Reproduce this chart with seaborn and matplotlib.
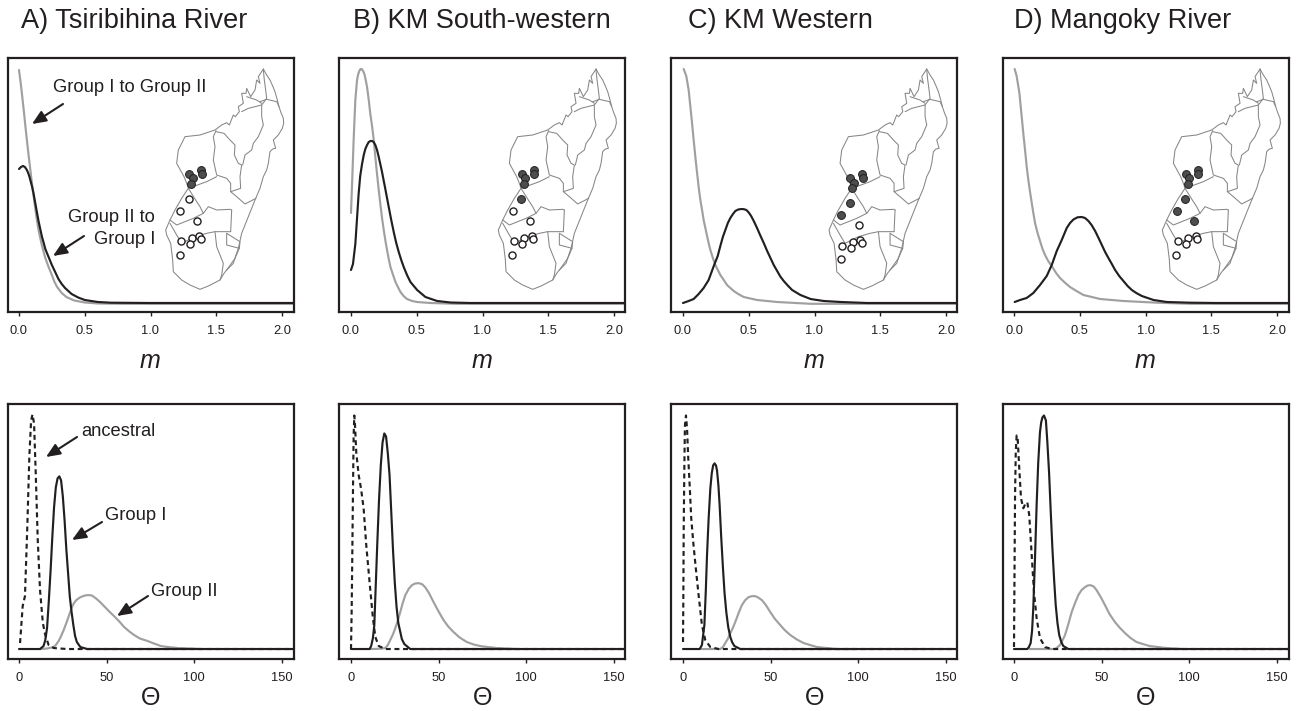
import matplotlib
matplotlib.use("Agg")
import matplotlib.pyplot as plt
import numpy as np
import pandas as pd
import seaborn as sns

sns.set_theme(style="white")
plt.rcParams['font.family'] = ['Liberation Sans', 'DejaVu Sans']

panel_titles = ["A) Tsiribihina River", "B) KM South-western", "C) KM Western", "D) Mangoky River"]
m_ticks = [0.0, 0.5, 1.0, 1.5, 2.0]
m_ticklabels = ["0.0", "0.5", "1.0", "1.5", "2.0"]
theta_ticks = [0, 50, 100, 150]
theta_ticklabels = ["0", "50", "100", "150"]

# ---- migration rate densities (height in arbitrary density units) ----
a_m_grey_x = [0, .01, .02, .03, .04, .05, .06, .07, .08, .09, .1, .11, .12, .135, .15, .175, .2, .225, .25, .27, .29, .325, .36, .42, .5, .6, .8, 2.2]
a_m_grey_y = [233, 223, 212, 200, 188, 175, 163, 151, 140, 129, 118, 108, 98, 84, 72, 57, 45, 36, 28, 21, 16, 10, 6, 2.5, .5, -.5, -.8, -.8]
a_m_black_x = [0, .015, .03, .045, .06, .07, .08, .09, .1, .11, .125, .14, .15, .165, .175, .19, .2, .225, .25, .275, .3, .325, .35, .4, .45, .5, .6, .7, 1, 2.2]
a_m_black_y = [134, 136, 137, 136, 133, 130, 126, 121, 116, 110, 99, 88, 81, 72, 66, 59, 54, 46, 38, 31, 24, 19, 15, 9, 5.5, 3, 1, .3, 0, 0]

b_m_grey_x = [0, .01, .02, .033, .046, .055, .065, .073, .081, .09, .102, .112, .122, .135, .147, .16, .173, .185, .198, .21, .223, .236, .249, .262, .274, .287, .3, .32, .338, .357, .376, .4, .426, .465, .503, .604, .8, 2.2]
b_m_grey_y = [90, 126, 163, 203, 223, 229, 232.5, 234, 234, 232.5, 229, 223, 216, 203, 189, 177, 163, 146, 129, 114, 99, 85, 73, 62, 53, 44, 36, 28, 21, 16, 11, 7, 4, 2, 1, 0, -.8, -.8]
b_m_black_x = [0, .015, .033, .058, .07, .084, .097, .109, .122, .135, .148, .16, .172, .185, .198, .211, .236, .261, .287, .306, .325, .344, .363, .382, .401, .426, .452, .503, .566, .655, .756, .909, 2.2]
b_m_black_y = [33, 39, 59, 109, 127, 139, 148, 154, 158, 161, 162, 162, 161, 158, 153, 146, 131, 114, 96, 83, 71, 60, 51, 43, 36, 28, 21, 13, 6, 2, .5, 0, 0]

c_m_grey_x = [.005, .025, .043, .061, .071, .081, .094, .107, .12, .132, .145, .157, .17, .183, .195, .208, .227, .246, .265, .284, .31, .335, .36, .386, .42, .462, .563, .716, .97, 2.2]
c_m_grey_y = [234, 227, 213, 190, 177, 163, 146, 130, 115, 103, 93, 83, 75, 67, 60, 53, 45, 38, 33, 28, 23, 18, 15, 12, 9, 6, 3, 1, -.8, -.8]
c_m_black_x = [0, .043, .081, .119, .157, .195, .234, .264, .284, .303, .322, .341, .36, .38, .398, .42, .444, .463, .482, .5, .518, .54, .563, .588, .614, .64, .665, .69, .716, .74, .766, .8, .83, .893, .97, 1.07, 1.2, 1.4, 2.2]
c_m_black_y = [0, 2, 4, 9, 15, 23, 37, 47, 57, 66, 73, 80, 85, 89, 92, 93.5, 94, 93.8, 93, 90.5, 87, 81.5, 75, 67.5, 60, 52, 45, 38, 32, 26.5, 22, 17, 13, 8, 4, 2, 1, 0, 0]

d_m_grey_x = [.005, .02, .041, .061, .072, .084, .096, .109, .122, .135, .147, .16, .179, .198, .217, .236, .26, .287, .32, .35, .39, .426, .475, .528, .655, .832, 1.086, 1.34, 2.2]
d_m_grey_y = [234, 227, 210, 183, 168, 153, 137, 123, 111, 100, 90, 80, 70, 62, 54, 48, 42, 37, 30, 25, 20, 16, 12, 8, 4, 2, .3, -.8, -.8]
d_m_black_x = [.005, .046, .096, .147, .198, .249, .287, .325, .363, .401, .426, .452, .483, .515, .54, .566, .59, .617, .643, .668, .693, .718, .744, .769, .8, .832, .864, .896, .93, .972, 1.061, 1.162, 1.34, 1.543, 2.2]
d_m_black_y = [1, 3, 5, 10, 18, 27, 38, 52, 63, 75, 80, 83.5, 85.7, 86, 85, 82, 78, 72, 65, 58, 51, 45, 39, 33, 27, 22, 17, 13, 10, 7, 3, 1, .3, 0, 0]

# ---- theta densities ----
a_t_anc_x = [.6, 2.1, 3.4, 4.8, 5.9, 6.9, 7.7, 8.6, 9.6, 10.7, 12, 13.6, 15, 16.9, 19.8, 27.4, 37, 160]
a_t_anc_y = [6, 43, 53, 126, 193, 229, 235, 226, 173, 109, 59, 26, 14, 4, 1, 0, 0, 0]
a_t_one_x = [0, 12, 14, 15, 16, 17, 18, 19, 20, 21, 22, 23, 24, 25, 26, 27, 28, 29, 30, 31, 32, 33, 35, 38.9, 160]
a_t_one_y = [0, 0, 3, 9, 21, 48, 78, 112, 142, 162, 171, 173, 169, 153, 129, 100, 76, 52, 37, 24, 13, 7, 2, 0, 0]
a_t_two_x = [12, 16, 19.7, 21, 22.6, 24, 25.5, 27, 28.4, 30, 31.3, 33, 35.1, 37, 38.5, 39.9, 41.5, 43.7, 46, 48.5, 51, 54.2, 57, 60, 63, 65.7, 69, 73.4, 77, 81, 85, 90.6, 104]
a_t_two_y = [0, .5, 2, 4, 8, 13, 19, 26, 33, 41, 46, 49.5, 52, 53.3, 53.9, 54, 53.7, 51, 47.5, 43, 38.5, 33, 28, 22, 17.5, 14, 10.5, 8, 5.5, 3, 2, 1, 0]

b_t_anc_x = [0, .4, .8, 1.1, 1.5, 1.9, 2.3, 3, 4.4, 5.7, 7.2, 8.7, 10.6, 12.5, 13.9, 15.8, 19.6, 30, 160]
b_t_anc_y = [0, 41, 104, 154, 214, 234, 224, 197, 174, 161, 141, 104, 67, 31, 12, 3, 0, 0, 0]
b_t_one_x = [0, 10.6, 11.5, 12.5, 13.3, 14, 15, 16, 17, 18, 19, 20, 21, 22, 23, 24, 25, 26, 27, 28, 29, 30.4, 33.8, 160]
b_t_one_y = [0, 0, 3, 11, 24, 58, 106, 150, 184, 207, 216, 213, 196, 174, 136, 98, 66, 42, 26, 18, 10, 5, 0, 0]
b_t_two_x = [11, 17, 19.6, 21, 22.4, 24, 25.3, 26.8, 28.1, 29.5, 31, 33, 34.8, 36.5, 38.6, 40.5, 42.3, 44.5, 47.1, 50, 52.8, 55.5, 58.5, 62, 66.1, 70, 73.7, 78, 83.2, 94.6]
b_t_two_y = [0, .3, 1, 4, 9, 15, 21, 29, 37, 46, 54, 60.5, 64, 65.6, 66, 65, 62, 56, 47, 37.5, 29, 22.5, 17, 11.5, 7, 4.5, 3, 2, 1, 0]

c_t_anc_x = [0, .2, .4, .8, 1.1, 1.7, 2.3, 3, 3.8, 4.7, 6, 7.3, 8.9, 10.8, 12.7, 15.6, 20.3, 160]
c_t_anc_y = [7, 54, 121, 187, 224, 234, 221, 191, 164, 131, 104, 81, 54, 24, 9, 2, 0, 0]
c_t_one_x = [0, 9.5, 10.8, 12.2, 13, 13.7, 14.6, 15.6, 16.4, 17.2, 18, 18.8, 19.4, 20.2, 20.9, 21.8, 22.8, 23.7, 24.7, 25.8, 27, 28, 29.3, 32.7, 160]
c_t_one_y = [0, 0, 4, 24, 58, 94, 130, 161, 176, 184, 186, 184, 179, 164, 144, 112, 81, 56, 37, 22, 12, 7, 3, 0, 0]
c_t_two_x = [9.9, 21.3, 22.8, 24.1, 25.5, 27, 28.4, 29.8, 31.7, 33.6, 35.5, 37.4, 39.3, 41.2, 43, 45, 47.3, 49.8, 52.5, 55.5, 58, 61.2, 65, 68.8, 72.5, 76.4, 82, 87.8, 97.3]
c_t_two_y = [0, 0, 2, 6, 10, 16, 21, 27, 36, 44, 49, 52, 53, 53, 51.5, 49, 44, 37, 30, 24, 19, 14, 9.5, 6, 4, 2, 1, 0, 0]

d_t_anc_x = [0, .2, .6, 1, 1.5, 2.1, 3, 4, 5.3, 6.6, 7.6, 8.7, 10.1, 11.4, 12.9, 14.8, 17.7, 21.5, 160]
d_t_anc_y = [2, 54, 154, 197, 214, 211, 181, 151, 141, 146, 147, 134, 94, 57, 31, 11, 2, 0, 0]
d_t_one_x = [0, 7.6, 8.5, 9.5, 10.3, 11, 12, 12.9, 13.8, 14.8, 15.5, 16.2, 17.1, 18.2, 19, 20, 21, 21.9, 22.9, 23.8, 24.8, 25.8, 27, 28.1, 31, 160]
d_t_one_y = [0, 0, 2, 6, 18, 41, 92, 144, 186, 217, 227, 232, 234, 229, 208, 177, 136, 101, 69, 44, 26, 14, 7, 3, 0, 0]
d_t_two_x = [9, 23.4, 25, 26.2, 27.5, 29.1, 31, 32.9, 34.8, 36.7, 38.5, 40.5, 42, 43.7, 45.5, 47.1, 49.5, 51.9, 54.5, 57.6, 60.5, 63.3, 66.5, 69.9, 73.5, 77.5, 82, 87, 96.5]
d_t_two_y = [0, 0, 2, 4, 8, 14, 25, 37, 46, 54, 59, 62, 63.6, 64, 62.5, 59, 52, 44, 35, 27, 21, 16, 11, 7, 5, 3, 2, 1, 0]

m_curves = [
    [(a_m_grey_x, a_m_grey_y), (a_m_black_x, a_m_black_y)],
    [(b_m_grey_x, b_m_grey_y), (b_m_black_x, b_m_black_y)],
    [(c_m_grey_x, c_m_grey_y), (c_m_black_x, c_m_black_y)],
    [(d_m_grey_x, d_m_grey_y), (d_m_black_x, d_m_black_y)],
]
t_curves = [
    [(a_t_two_x, a_t_two_y), (a_t_anc_x, a_t_anc_y), (a_t_one_x, a_t_one_y)],
    [(b_t_two_x, b_t_two_y), (b_t_anc_x, b_t_anc_y), (b_t_one_x, b_t_one_y)],
    [(c_t_two_x, c_t_two_y), (c_t_anc_x, c_t_anc_y), (c_t_one_x, c_t_one_y)],
    [(d_t_two_x, d_t_two_y), (d_t_anc_x, d_t_anc_y), (d_t_one_x, d_t_one_y)],
]

# ---- map of Madagascar in map units ----
coast_x = [790, 800, 810, 818, 825, 832, 837, 843, 850, 851, 847, 835, 820, 827, 818, 810, 805, 800, 790, 780, 765, 745, 735, 725, 715, 708, 700, 680, 672, 660, 625, 600, 570, 545, 520, 518, 512, 500, 497, 510, 525, 545, 565, 560, 552, 530, 535, 555, 600, 615, 645, 665, 680, 688, 700, 706, 718, 715, 730, 725, 738, 740, 752, 765, 770, 780, 775, 790]
coast_y = [207, 225, 240, 258, 275, 300, 320, 338, 355, 370, 385, 405, 420, 445, 447, 455, 490, 510, 530, 565, 600, 650, 675, 700, 745, 765, 790, 810, 820, 840, 858, 868, 855, 840, 815, 780, 730, 705, 690, 660, 630, 595, 565, 550, 530, 490, 450, 410, 405, 400, 390, 375, 368, 375, 345, 350, 335, 320, 310, 280, 280, 265, 290, 270, 240, 250, 230, 207]
b1_x = [790, 793, 797, 800, 785, 745, 725]; b1_y = [210, 240, 270, 295, 315, 325, 335]
b2_x = [780, 800, 830, 837]; b2_y = [305, 298, 305, 320]
b3_x = [785, 785, 790, 775, 760, 755, 735, 728]; b3_y = [315, 350, 375, 410, 430, 450, 465, 495]
b4_x = [648, 640, 645, 640, 650, 680, 692, 692, 710, 735, 768]; b4_y = [392, 410, 440, 480, 525, 535, 550, 575, 590, 612, 595]
b5_x = [648, 672, 690, 705, 703, 715, 725, 720, 722, 692]; b5_y = [395, 400, 420, 435, 465, 490, 495, 530, 565, 575]
b6_x = [565, 620, 650]; b6_y = [565, 545, 530]
b7_x = [565, 590, 600, 610, 625, 650, 690, 695]; b7_y = [565, 605, 620, 640, 620, 630, 628, 630]
b8_x = [510, 530, 580, 610]; b8_y = [660, 675, 655, 640]
b9_x = [695, 692]; b9_y = [630, 695]
b10_x = [510, 530, 545, 585, 620, 645, 692]; b10_y = [670, 705, 730, 710, 700, 695, 695]
b11_x = [645, 650, 670, 665, 660]; b11_y = [695, 740, 790, 825, 840]
b12_x = [680, 680, 718, 705, 680]; b12_y = [700, 735, 745, 775, 810]
b13_x = [680, 720, 718]; b13_y = [700, 725, 745]
b14_x = [740, 770, 785]; b14_y = [290, 300, 310]
map_lines = [(coast_x, coast_y), (b1_x, b1_y), (b2_x, b2_y), (b3_x, b3_y), (b4_x, b4_y), (b5_x, b5_y), (b6_x, b6_y),
             (b7_x, b7_y), (b8_x, b8_y), (b9_x, b9_y), (b10_x, b10_y), (b11_x, b11_y), (b12_x, b12_y), (b13_x, b13_y), (b14_x, b14_y)]

site_x = [567, 578, 573, 603, 605, 566, 541, 592, 543, 575, 569, 597, 602, 539]
site_y = [521, 535, 551, 509, 522, 597, 632, 662, 723, 715, 732, 707, 717, 764]
site_x_c = [560, 571, 567, 596, 599, 559, 534, 586, 536, 568, 563, 591, 596, 532]
site_y_c = [534, 548, 564, 522, 535, 610, 645, 675, 737, 726, 744, 720, 730, 777]
# 1 = Group I (dark), 0 = Group II (open)
group_a = [1, 1, 1, 1, 1, 0, 0, 0, 0, 0, 0, 0, 0, 0]
group_b = [1, 1, 1, 1, 1, 1, 0, 0, 0, 0, 0, 0, 0, 0]
group_c = [1, 1, 1, 1, 1, 1, 1, 0, 0, 0, 0, 0, 0, 0]
group_d = [1, 1, 1, 1, 1, 1, 1, 1, 0, 0, 0, 0, 0, 0]
sites = [(site_x, site_y, group_a), (site_x, site_y, group_b), (site_x_c, site_y_c, group_c), (site_x, site_y, group_d)]

# ---- layout (pixels) ----
W, H = 1296, 711
BLACK, GREY, MAPC = "#231f20", "#a0a0a0", "#868686"
frame_left = [8, 339, 671, 1003]
frame_w = 285.5
zero_px = [19, 351, 683, 1014]
map_off = [0, 332.7, 663.4, 996.7]
title_x = [21, 353, 688, 1014]
top_y = (57.5, 312)
bot_y = (403.5, 659)
m_scale, t_scale = 131.5, 1.753

fig = plt.figure(figsize=(W / 100, H / 100), dpi=100, facecolor="white")


def make_ax(px_left, ys, zero, scale, ylim):
    ax = fig.add_axes([px_left / W, 1 - ys[1] / H, frame_w / W, (ys[1] - ys[0]) / H])
    ax.set_xlim((px_left - zero) / scale, (px_left + frame_w - zero) / scale)
    ax.set_ylim(*ylim)
    ax.set_yticks([])
    ax.set_xlabel(""); ax.set_ylabel("")
    for s in ax.spines.values():
        s.set_visible(True); s.set_linewidth(1.6); s.set_color(BLACK)
    ax.tick_params(axis="x", bottom=True, length=3.2, width=1.0, color=BLACK, pad=6,
                   labelsize=9.3, labelcolor=BLACK)
    return ax


def curve(ax, xy, color, dashed=False, lw=1.55):
    df = pd.DataFrame({"x": xy[0], "y": xy[1]})
    line_ax = sns.lineplot(data=df, x="x", y="y", sort=False, estimator=None, errorbar=None,
                           color=color, lw=lw, ax=ax)
    ln = line_ax.lines[-1]
    ln.set_solid_joinstyle("round")
    if dashed:
        ln.set_linestyle((0, (2.3, 1.7)))
    ax.set_xlabel(""); ax.set_ylabel("")


def ptext(x, y, s, **kw):
    kw.setdefault("color", BLACK)
    fig.text(x / W, 1 - y / H, s, **kw)


def arrow(ax, x0, y0, x1, y1):
    ax.annotate("", xy=(x1 / W, 1 - y1 / H), xytext=(x0 / W, 1 - y0 / H),
                xycoords="figure fraction", textcoords="figure fraction", annotation_clip=False,
                arrowprops=dict(arrowstyle="-|>,head_length=0.7,head_width=0.3", lw=1.5,
                                color=BLACK, shrinkA=0, shrinkB=0))


for i in range(4):
    # top row
    ax = make_ax(frame_left[i], top_y, zero_px[i], m_scale, (-9, 245.5))
    curve(ax, m_curves[i][0], GREY)
    curve(ax, m_curves[i][1], BLACK)
    ax.set_xticks(m_ticks); ax.set_xticklabels(m_ticklabels)
    ptext(zero_px[i] + m_scale, 361, "m", fontsize=18, style="italic", ha="center", va="center")
    ptext(title_x[i], 21, panel_titles[i], fontsize=19.5, ha="left", va="center")

    # inset map
    ox = map_off[i]
    mp_l, mp_r = 480 / 3 + ox, 880 / 3 + ox
    mp_t, mp_b = 190 / 3, 880 / 3
    mp = fig.add_axes([mp_l / W, 1 - mp_b / H, (mp_r - mp_l) / W, (mp_b - mp_t) / H], facecolor="none")
    for lx, ly in map_lines:
        curve(mp, (lx, ly), MAPC, lw=0.75)
    sx, sy, grp = sites[i]
    sdf = pd.DataFrame({"x": sx, "y": sy, "g": grp})
    sns.scatterplot(data=sdf[sdf.g == 1], x="x", y="y", color="#4d4d4d", edgecolor=BLACK,
                    linewidth=0.7, s=32, ax=mp, zorder=5)
    sns.scatterplot(data=sdf[sdf.g == 0], x="x", y="y", color="white", edgecolor=BLACK,
                    linewidth=1.0, s=26, ax=mp, zorder=5)
    mp.set_xlim(480, 880); mp.set_ylim(880, 190)
    mp.axis("off")

    # bottom row
    ax2 = make_ax(frame_left[i], bot_y, zero_px[i], t_scale, (-10, 246))
    curve(ax2, t_curves[i][0], GREY)
    curve(ax2, t_curves[i][1], BLACK, dashed=True)
    curve(ax2, t_curves[i][2], BLACK)
    ax2.set_xticks(theta_ticks); ax2.set_xticklabels(theta_ticklabels)
    ptext(zero_px[i] + 75 * t_scale + 0.5, 698, "\u0398", fontsize=18, ha="center", va="center")

    if i == 0:
        top_ax, bot_ax = ax, ax2

# annotations in panel A
ptext(53, 88, "Group I to Group II", fontsize=13.2, ha="left", va="center")
ptext(155, 218, "Group II to", fontsize=13.2, ha="right", va="center")
ptext(155, 239, "Group I", fontsize=13.2, ha="right", va="center")
ptext(81, 431, "ancestral", fontsize=13.2, ha="left", va="center")
ptext(105, 516, "Group I", fontsize=13.2, ha="left", va="center")
ptext(151, 592, "Group II", fontsize=13.2, ha="left", va="center")
arrow(top_ax, 63, 104, 32, 124)
arrow(top_ax, 84, 236, 53, 256)
arrow(bot_ax, 77, 437, 46, 457)
arrow(bot_ax, 102, 522, 72, 540)
arrow(bot_ax, 148, 596, 117, 616)

fig.savefig("out.png", dpi=100, facecolor="white")
